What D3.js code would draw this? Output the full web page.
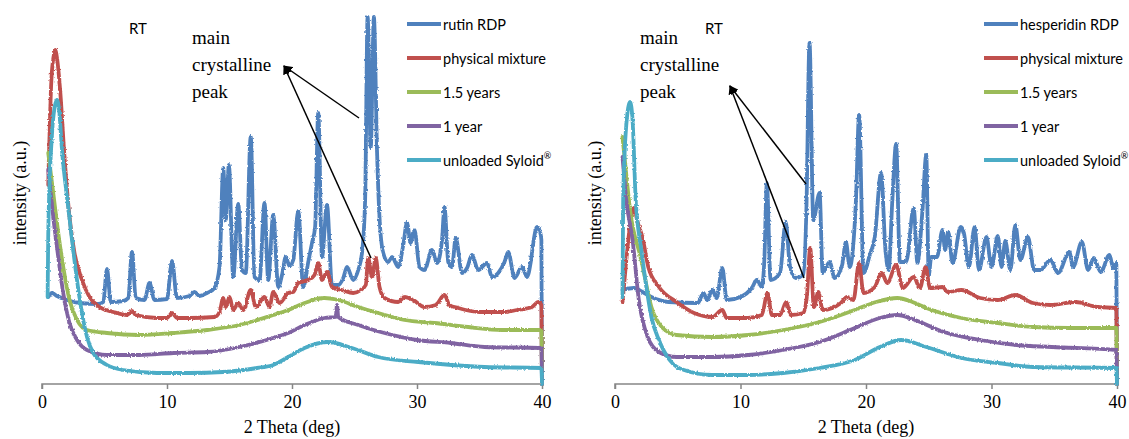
<!DOCTYPE html>
<html>
<head>
<meta charset="utf-8">
<script src="https://cdn.jsdelivr.net/npm/d3@7"></script>
<style>
  html, body { margin: 0; padding: 0; background: #fff; }
  svg { display: block; }
</style>
</head>
<body>
<svg id="chart" width="1129" height="439"></svg>
<script>
// ---- X-ray powder diffraction patterns, 2θ (deg) vs intensity (a.u.) ----

const seriesNames = ["physical mixture", "1.5 years", "1 year", "unloaded Syloid®"];
const seriesColors = ["#4F81BD", "#C0504D", "#9BBB59", "#8064A2", "#4BACC6"];
const xTicks = [0, 10, 20, 30, 40];

// Rutin panel
const rutinRDP = [[0.5,87],[0.8,91],[1.2,88],[2,84],[3,81],[4.5,80],[4.9,82],[5.2,115],[5.5,82],[6.5,83],[6.9,86],[7.2,132],[7.5,86],[8.2,84],[8.6,101],[9,84],[10,85],[10.4,123],[10.8,86],[11.8,88],[12.2,92],[12.6,88],[13.2,91],[13.8,96],[14.2,117],[14.5,216],[14.7,164],[14.95,219],[15.3,107],[15.7,180],[16.0,114],[16.3,111],[16.7,247],[17.0,107],[17.4,104],[17.8,181],[18.1,104],[18.5,169],[18.9,97],[19.2,109],[19.5,127],[19.8,118],[20.1,124],[20.5,173],[20.9,97],[21.3,122],[21.6,141],[21.85,157],[22.1,271],[22.4,127],[22.8,179],[23.2,99],[23.7,99],[24.1,106],[24.4,117],[24.9,104],[25.3,114],[25.6,131],[25.85,184],[26.05,367],[26.3,237],[26.55,367],[26.8,234],[27.0,167],[27.3,131],[27.7,122],[28.0,127],[28.5,117],[28.9,139],[29.2,161],[29.5,141],[29.8,154],[30.2,117],[30.6,114],[31.2,134],[31.6,121],[32.0,144],[32.2,177],[32.5,122],[32.8,117],[33.1,146],[33.6,111],[34.0,116],[34.4,129],[34.9,114],[35.6,121],[36.0,107],[36.5,111],[37.0,122],[37.3,132],[37.8,106],[38.4,117],[38.8,107],[39.1,122],[39.3,141],[39.6,157],[39.85,152],[39.95,144],[40,0]];
const rutinMixture = [[0.5,199],[0.75,304],[0.95,329],[1.05,334],[1.2,326],[1.45,294],[1.8,227],[2.2,167],[2.6,131],[3.2,104],[3.8,87],[4.6,77],[5.7,72],[6.8,69],[7.2,73],[7.5,69],[9.2,66],[10.0,66],[10.4,71],[10.8,66],[11.8,66],[13.8,67],[14.2,72],[14.5,86],[14.7,77],[15.0,87],[15.3,74],[15.7,81],[16.1,74],[16.7,94],[17.1,77],[17.8,87],[18.2,77],[18.5,92],[19.0,81],[19.7,91],[20.1,92],[20.5,101],[21.3,104],[21.8,109],[22.1,121],[22.4,104],[22.8,112],[23.2,97],[24.0,94],[24.9,91],[25.5,94],[25.9,99],[26.1,126],[26.4,107],[26.7,126],[27.0,97],[27.4,86],[28.5,82],[29.0,87],[29.7,84],[30.6,77],[31.5,79],[32.2,89],[32.6,79],[33.3,76],[35.0,72],[37.0,72],[38.0,74],[39.2,77],[39.7,82],[39.95,79],[40,0]];
const rutin15y = [[0.5,231],[0.9,191],[1.3,151],[1.7,117],[2.2,84],[2.8,64],[3.6,54],[5.2,51],[7.8,49],[10.5,51],[13.2,54],[15.8,59],[18.5,69],[19.7,74],[21.0,81],[22.6,86],[23.7,84],[25.3,77],[26.9,71],[29.0,64],[31.4,61],[34.1,57],[36.8,54],[39.95,54],[40,0]];
const rutin1y = [[0.5,214],[0.9,167],[1.3,127],[1.7,91],[2.2,61],[2.8,44],[3.6,34],[5.2,29],[7.8,29],[10.5,31],[13.2,32],[15.8,37],[18.5,46],[19.7,51],[21.0,59],[22.6,66],[23.5,67],[23.6,79],[23.7,67],[25.3,59],[27.4,51],[30.0,44],[32.7,41],[35.4,37],[39.95,36],[40,0]];
const rutinSyloid = [[0.45,87],[0.5,150],[0.8,250],[1.0,276],[1.2,284],[1.4,270],[1.6,234],[2.0,187],[2.4,144],[2.8,104],[3.2,71],[3.6,47],[4.1,31],[5.2,19],[6.5,14],[9.2,11],[11.8,11],[14.5,12],[17.2,16],[18.5,19],[19.7,27],[21.0,36],[22.9,42],[24.8,36],[26.9,27],[30.1,22],[32.8,19],[35.4,17],[39.95,16],[40,0]];

// Hesperidin panel
const hesperidinRDP = [[0.6,94],[1.5,96],[2.2,92],[2.9,87],[4.3,82],[6.6,81],[7.05,91],[7.35,84],[7.75,94],[8.1,86],[8.55,116],[8.9,84],[10.0,87],[10.9,96],[11.3,104],[11.7,97],[11.9,124],[12.1,201],[12.4,104],[13.15,111],[13.6,162],[13.95,117],[14.4,106],[15.0,109],[15.25,174],[15.5,341],[15.8,164],[16.3,191],[16.55,111],[17.1,122],[17.5,106],[18.1,119],[18.4,142],[18.7,117],[19.2,184],[19.45,269],[19.8,111],[20.3,129],[20.7,147],[21.2,211],[21.55,134],[21.8,114],[22.1,184],[22.4,240],[22.7,122],[23.2,122],[23.8,176],[24.1,121],[24.5,174],[24.8,229],[25.0,109],[25.2,127],[25.65,127],[26.1,154],[26.3,134],[26.55,152],[26.9,121],[27.55,157],[27.8,151],[28.2,117],[28.65,157],[29.0,114],[29.6,147],[30.0,117],[30.5,148],[30.8,117],[31.1,143],[31.5,114],[31.9,159],[32.3,124],[32.9,147],[33.4,114],[33.9,114],[34.7,124],[35.3,111],[36.2,132],[36.5,117],[37.2,142],[37.7,114],[38.15,126],[38.7,112],[39.4,129],[39.7,116],[39.95,121],[40,0]];
const hesperidinMixture = [[0.6,82],[0.9,124],[1.2,159],[1.5,176],[1.8,162],[2.2,146],[2.65,117],[3.5,97],[4.9,82],[6.3,71],[7.75,67],[8.55,74],[8.9,66],[10.6,66],[11.7,69],[12.15,91],[12.5,69],[13.15,69],[13.65,82],[14.0,69],[15.0,71],[15.3,89],[15.55,136],[15.85,77],[16.2,92],[16.55,74],[18.0,81],[18.5,87],[19.0,84],[19.45,121],[19.8,91],[20.7,97],[21.25,111],[21.7,101],[22.4,119],[22.95,96],[23.8,107],[24.3,96],[24.75,117],[25.1,96],[26.1,97],[26.5,92],[27.6,94],[29.1,86],[30.5,84],[31.9,89],[33.3,81],[34.7,79],[36.7,82],[38.4,77],[39.95,76],[40,0]];
const hesperidin15y = [[0.6,247],[0.9,209],[1.2,174],[2.1,124],[2.9,77],[3.8,56],[4.9,49],[7.75,47],[10.6,49],[13.4,54],[16.3,62],[19.1,74],[20.8,82],[22.5,86],[23.7,82],[24.8,76],[27.6,66],[30.5,61],[33.3,57],[36.2,56],[39.95,56],[40,0]];
const hesperidin1y = [[0.6,227],[0.9,184],[1.4,144],[1.9,84],[2.6,47],[3.5,32],[4.9,27],[7.75,27],[10.6,29],[13.4,34],[16.3,42],[19.1,56],[21.1,66],[22.5,69],[23.9,64],[26.2,52],[29.1,44],[32.0,39],[34.8,37],[39.95,34],[40,0]];
const hesperidinSyloid = [[0.6,87],[0.65,184],[0.9,259],[1.2,282],[1.4,264],[1.65,184],[2.1,134],[2.5,97],[2.9,67],[3.5,44],[4.35,24],[5.5,14],[7.75,9],[10.6,9],[13.4,11],[16.3,16],[19.1,24],[21.1,37],[22.8,44],[24.8,37],[27.6,26],[30.5,21],[33.3,17],[39.95,16],[40,0]];

// Annotation anchors [2θ, intensity]: label arrow tip and the two peaks it points from
const rutinArrow = { tip: [19.36, 318], from: [[25.36, 266], [26.32, 126]] };
const hesperidinArrow = { tip: [9.16, 298], from: [[15.22, 200], [15.06, 106]] };

const panels = [
  { drug: "rutin RDP", series: [rutinRDP, rutinMixture, rutin15y, rutin1y, rutinSyloid],
    x0: 42, x1: 542, arrow: rutinArrow, rt: [138, 28], note: [192, 44], legendX: 407, yTitleX: 20 },
  { drug: "hesperidin RDP", series: [hesperidinRDP, hesperidinMixture, hesperidin15y, hesperidin1y, hesperidinSyloid],
    x0: 615, x1: 1117, arrow: hesperidinArrow, rt: [714, 28], note: [640, 44], legendX: 984, yTitleX: 595 }
];

const svg = d3.select("#chart");
const serif = "'Liberation Serif', 'Times New Roman', serif";
const sans = "Lato, 'Open Sans', sans-serif";

const defs = svg.append("defs");
defs.append("marker")
  .attr("id", "arrowhead")
  .attr("viewBox", "0 0 10 10")
  .attr("refX", 9).attr("refY", 5)
  .attr("markerWidth", 9).attr("markerHeight", 9)
  .attr("markerUnits", "userSpaceOnUse")
  .attr("orient", "auto")
  .append("path").attr("d", "M0,0 L10,5 L0,10 Z").attr("fill", "#000");

// ragged edge for the counting-statistics look of the detector traces
const grain = defs.append("filter")
  .attr("id", "grain")
  .attr("filterUnits", "userSpaceOnUse")
  .attr("x", 0).attr("y", 0).attr("width", 1129).attr("height", 439);
grain.append("feTurbulence")
  .attr("type", "fractalNoise").attr("baseFrequency", "0.7 0.45")
  .attr("numOctaves", 1).attr("seed", 7).attr("result", "n");
grain.append("feDisplacementMap")
  .attr("in", "SourceGraphic").attr("in2", "n")
  .attr("scale", 3).attr("xChannelSelector", "R").attr("yChannelSelector", "G");

const y = d3.scaleLinear().domain([0, 367]).range([384, 17]);

panels.forEach(p => {
  const x = d3.scaleLinear().domain([0, 40]).range([p.x0, p.x1]);
  const g = svg.append("g");

  const line = d3.line()
    .x(d => x(d[0]))
    .y(d => y(d[1]))
    .curve(d3.curveMonotoneX);

  // x axis
  const axis = g.append("g")
    .attr("transform", `translate(0,${y(0)})`)
    .call(d3.axisBottom(x).tickValues(xTicks).tickSize(5).tickPadding(6).tickFormat(d3.format("d")));
  axis.select(".domain").attr("stroke", "#868686").attr("stroke-width", 1.5).attr("d", `M${p.x0},5V0H${p.x1}`);
  axis.selectAll(".tick line").attr("stroke", "#868686").attr("stroke-width", 1.5);
  axis.selectAll(".tick text").attr("font-family", serif).attr("font-size", 18).attr("fill", "#000");

  // diffraction traces
  const traces = g.append("g").attr("filter", "url(#grain)");
  p.series.forEach((s, i) => {
    traces.append("path")
      .datum(s)
      .attr("d", line)
      .attr("fill", "none")
      .attr("stroke", seriesColors[i])
      .attr("stroke-width", 3.8)
      .attr("stroke-linejoin", "round")
      .attr("stroke-linecap", "round");
  });

  // axis titles
  g.append("text")
    .attr("x", (p.x0 + p.x1) / 2).attr("y", 433)
    .attr("text-anchor", "middle")
    .attr("font-family", serif).attr("font-size", 18)
    .text("2 Theta (deg)");
  g.append("text")
    .attr("transform", `translate(${p.yTitleX},193) rotate(-90)`)
    .attr("text-anchor", "middle").attr("dominant-baseline", "central")
    .attr("font-family", serif).attr("font-size", 18)
    .text("intensity (a.u.)");

  // RT label
  g.append("text")
    .attr("x", p.rt[0]).attr("y", p.rt[1])
    .attr("text-anchor", "middle").attr("dominant-baseline", "central")
    .attr("font-family", sans).attr("font-size", 15)
    .text("RT");

  // peak note with arrows
  const note = g.append("text")
    .attr("font-family", serif).attr("font-size", 19);
  ["main", "crystalline", "peak"].forEach((w, k) => {
    note.append("tspan").attr("x", p.note[0]).attr("y", p.note[1] + k * 27).text(w);
  });
  p.arrow.from.forEach(f => {
    g.append("line")
      .attr("x1", x(f[0])).attr("y1", y(f[1]))
      .attr("x2", x(p.arrow.tip[0])).attr("y2", y(p.arrow.tip[1]))
      .attr("stroke", "#000").attr("stroke-width", 1.5)
      .attr("marker-end", "url(#arrowhead)");
  });

  // legend
  const labels = [p.drug].concat(seriesNames);
  const leg = g.append("g");
  labels.forEach((name, i) => {
    const ly = 24 + i * 34;
    leg.append("line")
      .attr("x1", p.legendX).attr("x2", p.legendX + 34)
      .attr("y1", ly).attr("y2", ly)
      .attr("stroke", seriesColors[i]).attr("stroke-width", 4);
    const t = leg.append("text")
      .attr("x", p.legendX + 36).attr("y", ly)
      .attr("dominant-baseline", "central")
      .attr("font-family", sans).attr("font-size", 14.5);
    if (name.endsWith("®")) {
      t.append("tspan").text(name.slice(0, -1));
      t.append("tspan").attr("font-size", 9).attr("dy", -5).text("®");
    } else {
      t.text(name);
    }
  });
});
</script>
</body>
</html>
